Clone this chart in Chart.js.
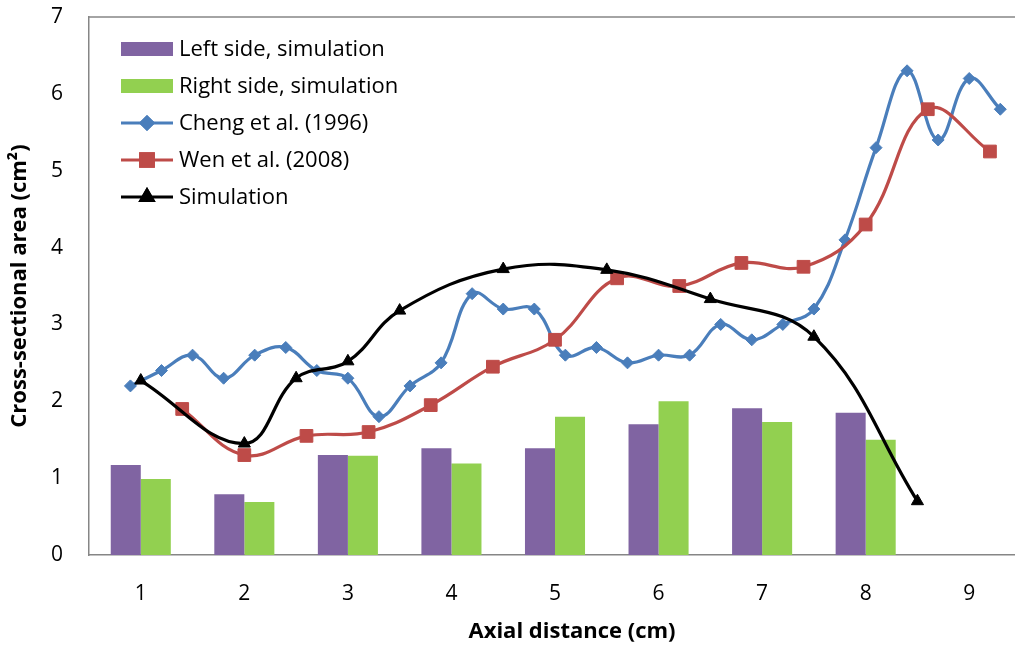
<!DOCTYPE html>
<html>
<head>
<meta charset="utf-8">
<script src="https://cdn.jsdelivr.net/npm/chart.js@4/dist/chart.umd.min.js"></script>
<style>
  html, body { margin: 0; padding: 0; background: #fff; overflow: hidden; }
  #wrap { width: 1060px; height: 645px; }
</style>
</head>
<body>
<div id="wrap"><canvas id="chart" width="1060" height="645"></canvas></div>
<script>
// ---- data ----
const categories = [1, 2, 3, 4, 5, 6, 7, 8, 9];
const leftSim  = [1.17, 0.79, 1.30, 1.39, 1.39, 1.70, 1.91, 1.85];
const rightSim = [0.99, 0.69, 1.29, 1.19, 1.80, 2.00, 1.73, 1.50];

const chengX = [0.9, 1.2, 1.5, 1.8, 2.1, 2.4, 2.7, 3.0, 3.3, 3.6, 3.9, 4.2, 4.5, 4.8, 5.1,
                5.4, 5.7, 6.0, 6.3, 6.6, 6.9, 7.2, 7.5, 7.8, 8.1, 8.4, 8.7, 9.0, 9.3];
const chengY = [2.2, 2.4, 2.6, 2.3, 2.6, 2.7, 2.4, 2.3, 1.8, 2.2, 2.5, 3.4, 3.2, 3.2, 2.6,
                2.7, 2.5, 2.6, 2.6, 3.0, 2.8, 3.0, 3.2, 4.1, 5.3, 6.3, 5.4, 6.2, 5.8];

const wenX = [1.4, 2.0, 2.6, 3.2, 3.8, 4.4, 5.0, 5.6, 6.2, 6.8, 7.4, 8.0, 8.6, 9.2];
const wenY = [1.9, 1.3, 1.55, 1.6, 1.95, 2.45, 2.8, 3.6, 3.5, 3.8, 3.75, 4.3, 5.8, 5.25];

const simX = [1.0, 2.0, 2.5, 3.0, 3.5, 4.5, 5.5, 6.5, 7.5, 8.5];
const simY = [2.27, 1.45, 2.3, 2.52, 3.18, 3.72, 3.71, 3.33, 2.84, 0.7];

const yTicks = [0, 1, 2, 3, 4, 5, 6, 7];
const xTitle = "Axial distance (cm)";

const toPts = (xs, ys) => ys.map((y, i) => ({ x: xs[i], y: y }));

const AXIS = "#868686";
const FONT = "'Open Sans', Lato, sans-serif";

// plot frame (top line), x title and legend drawn inside the plot
const frameAndLegend = {
    id: "frameAndLegend",
    afterDraw(chart) {
        const ctx = chart.ctx;
        const a = chart.chartArea;
        ctx.save();
        ctx.strokeStyle = AXIS;
        ctx.lineWidth = 1.5;
        ctx.beginPath();
        ctx.moveTo(a.left, a.top);
        ctx.lineTo(a.right, a.top);
        ctx.stroke();

        ctx.fillStyle = "#000";
        ctx.font = "bold 22px " + FONT;
        ctx.textAlign = "center";
        ctx.textBaseline = "middle";
        ctx.fillText(xTitle, 572, 632);

        // legend
        const x0 = a.left + 32, x1 = a.left + 84, tx = a.left + 90;
        let y = a.top + 32;
        ctx.font = "22px " + FONT;
        ctx.textAlign = "left";
        chart.data.datasets.forEach(ds => {
            if (ds.type === "line") {
                ctx.strokeStyle = ds.borderColor;
                ctx.lineWidth = 3;
                ctx.beginPath();
                ctx.moveTo(x0, y);
                ctx.lineTo(x1, y);
                ctx.stroke();
                Chart.helpers.drawPoint(ctx, {
                    pointStyle: ds.pointStyle,
                    radius: ds.pointRadius,
                    borderWidth: 1
                }, (x0 + x1) / 2, y);
                ctx.fillStyle = ds.pointBackgroundColor;
                ctx.strokeStyle = ds.pointBackgroundColor;
                ctx.fill();
                ctx.stroke();
            } else {
                ctx.fillStyle = ds.backgroundColor;
                ctx.fillRect(x0, y - 7, x1 - x0, 14);
            }
            ctx.fillStyle = "#000";
            ctx.fillText(ds.label, tx, y + 1);
            y += 37;
        });
        ctx.restore();
    }
};

new Chart(document.getElementById("chart"), {
    type: "bar",
    data: {
        datasets: [
            { label: "Left side, simulation", data: toPts(categories, leftSim), backgroundColor: "#8064A2", order: 10 },
            { label: "Right side, simulation", data: toPts(categories, rightSim), backgroundColor: "#92D050", order: 10 },
            {
                type: "line", label: "Cheng et al. (1996)", data: toPts(chengX, chengY),
                borderColor: "#4A7EBB", borderWidth: 3.2, tension: 0.4,
                pointStyle: "rectRot", pointRadius: 6, pointBackgroundColor: "#4A7EBB",
                pointBorderColor: "#4A7EBB", pointBorderWidth: 1, order: 3
            },
            {
                type: "line", label: "Wen et al. (2008)", data: toPts(wenX, wenY),
                borderColor: "#BE4B48", borderWidth: 3.2, tension: 0.4,
                pointStyle: "rect", pointRadius: 9, pointBackgroundColor: "#BE4B48",
                pointBorderColor: "#BE4B48", pointBorderWidth: 1, order: 2
            },
            {
                type: "line", label: "Simulation", data: toPts(simX, simY),
                borderColor: "#000", borderWidth: 3.2, tension: 0.4,
                pointStyle: "triangle", pointRadius: 7, pointBackgroundColor: "#000",
                pointBorderColor: "#000", pointBorderWidth: 1, order: 1
            }
        ]
    },
    options: {
        responsive: false,
        animation: false,
        layout: { padding: { left: 0, right: 39, top: 17, bottom: 0 } },
        datasets: { bar: { categoryPercentage: 0.58, barPercentage: 1.0 } },
        plugins: { legend: { display: false }, tooltip: { enabled: false } },
        scales: {
            x: {
                type: "linear", offset: false, min: 0.5, max: 9.5,
                afterBuildTicks: s => { s.ticks = categories.map(v => ({ value: v })); },
                grid: { display: false, drawTicks: false },
                border: { display: true, color: AXIS, width: 1.5 },
                ticks: { color: "#000", font: { family: FONT, size: 21 }, padding: 26 },
                afterFit: s => { s.height = 90; s.paddingLeft = 0; s.paddingRight = 0; }
            },
            y: {
                min: 0, max: 7,
                afterBuildTicks: s => { s.ticks = yTicks.map(v => ({ value: v })); },
                grid: { display: false, drawTicks: false },
                border: { display: true, color: AXIS, width: 1.5 },
                ticks: { color: "#000", font: { family: FONT, size: 21 }, padding: 26 },
                title: {
                    display: true, text: "Cross-sectional area (cm²)", color: "#000",
                    font: { family: FONT, size: 22, weight: "bold" }, padding: { top: 7, bottom: 0 }
                },
                afterFit: s => { s.width = 89; s.paddingTop = 0; s.paddingBottom = 0; }
            }
        }
    },
    plugins: [frameAndLegend]
});
</script>
</body>
</html>
